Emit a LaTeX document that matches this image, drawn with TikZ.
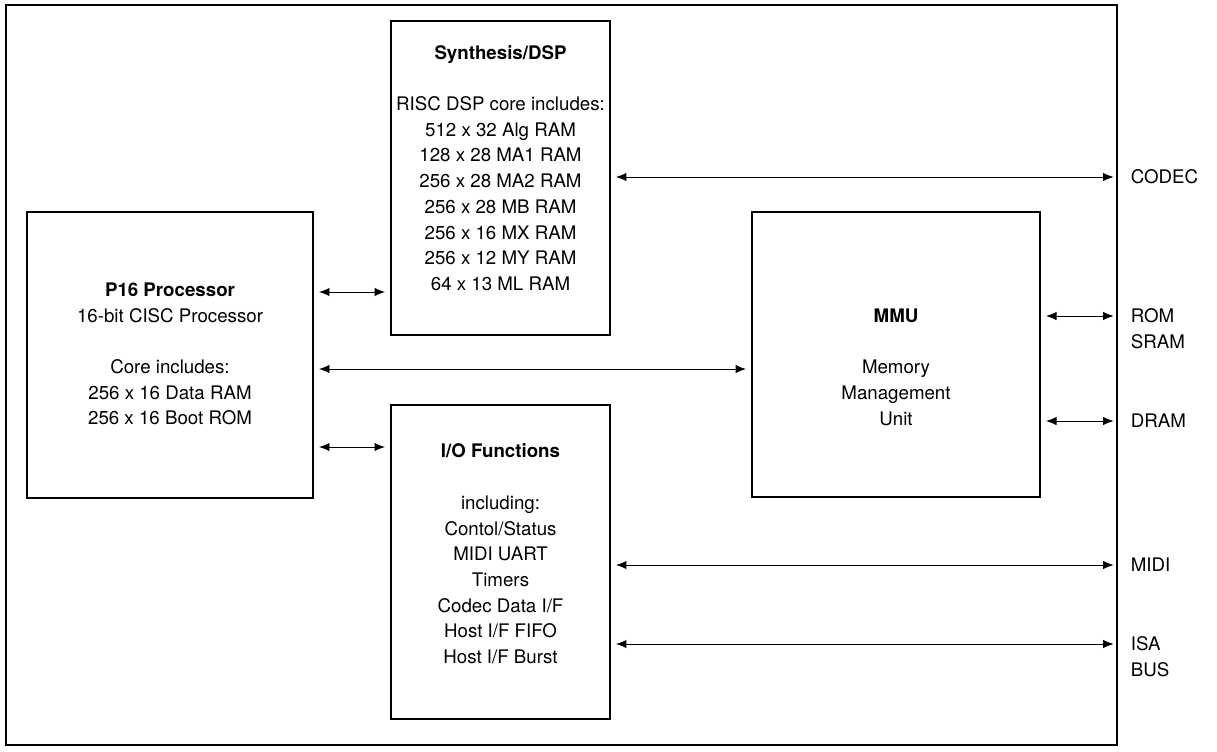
\documentclass[tikz,border=0pt]{standalone}
\usepackage{fontspec}
\setmainfont{TeX Gyre Heros}
\usetikzlibrary{arrows.meta}

\tikzset{
  blockbox/.style={draw, line width=1.4pt, inner sep=0pt},
  blocktext/.style={align=center, inner sep=0pt, font=\fontsize{13.3}{18.3}\selectfont},
  portlabel/.style={anchor=west, align=left, inner sep=0pt, font=\fontsize{13.3}{18.3}\selectfont},
  link/.style={{Latex[length=7.5pt,width=6pt]}-{Latex[length=7.5pt,width=6pt]}, line width=0.7pt,
               shorten <=3.5pt, shorten >=3.5pt}
}

\begin{document}
\begin{tikzpicture}[x=0.025cm, y=-0.025cm]
  \useasboundingbox (0,0) rectangle (1217,751);

  % outer frame
  \node[draw, line width=1.1pt, minimum width=27.775cm, minimum height=18.5cm, inner sep=0pt]
    (frame) at (561.5,375) {};

  % blocks
  \node[blockbox, minimum width=5.475cm, minimum height=7.85cm] (synth) at (500.5,178) {};
  \node[blockbox, minimum width=7.15cm,  minimum height=7.15cm] (p16)   at (170,355)   {};
  \node[blockbox, minimum width=7.2cm,   minimum height=7.125cm] (mmu)  at (896,354.5) {};
  \node[blockbox, minimum width=5.475cm, minimum height=7.85cm] (io)    at (500.5,562) {};

  % block texts
  \node[blocktext] (synthtxt) at (500.5,168) {\textbf{Synthesis/DSP}\\[18.3pt]
    RISC DSP core includes:\\512 x 32 Alg RAM\\128 x 28 MA1 RAM\\256 x 28 MA2 RAM\\
    256 x 28 MB RAM\\256 x 16 MX RAM\\256 x 12 MY RAM\\64 x 13 ML RAM};
  \node[blocktext] (p16txt) at (170,354) {\textbf{P16 Processor}\\16-bit CISC Processor\\[18.3pt]
    Core includes:\\256 x 16 Data RAM\\256 x 16 Boot ROM};
  \node[blocktext] (mmutxt) at (896,367) {\textbf{MMU}\\[18.3pt]Memory\\Management\\Unit};
  \node[blocktext] (iotxt) at (500.5,554) {\textbf{I/O Functions}\\[18.3pt]
    including:\\Contol/Status\\MIDI UART\\Timers\\Codec Data I/F\\Host I/F FIFO\\Host I/F Burst};

  % inner links
  \draw[link] (p16.east |- 0,292) -- (synth.west |- 0,292);
  \draw[link] (p16.east |- 0,369) -- (mmu.west |- 0,369);
  \draw[link] (p16.east |- 0,447) -- (io.west |- 0,447);

  % links to the outside
  \foreach \blk/\y in {synth/177, mmu/316, mmu/421, io/565, io/644}
    \draw[link, shorten >=3pt] (\blk.east |- 0,\y) -- (frame.east |- 0,\y);

  % port labels
  \node[portlabel] (codec) at ([xshift=9pt]frame.east |- 0,177) {CODEC};
  \node[portlabel] (rom)   at ([xshift=9pt]frame.east |- 0,329) {ROM\\SRAM};
  \node[portlabel] (dram)  at ([xshift=9pt]frame.east |- 0,421) {DRAM};
  \node[portlabel] (midi)  at ([xshift=9pt]frame.east |- 0,565) {MIDI};
  \node[portlabel] (isa)   at ([xshift=9pt]frame.east |- 0,657) {ISA\\BUS};
\end{tikzpicture}
\end{document}
